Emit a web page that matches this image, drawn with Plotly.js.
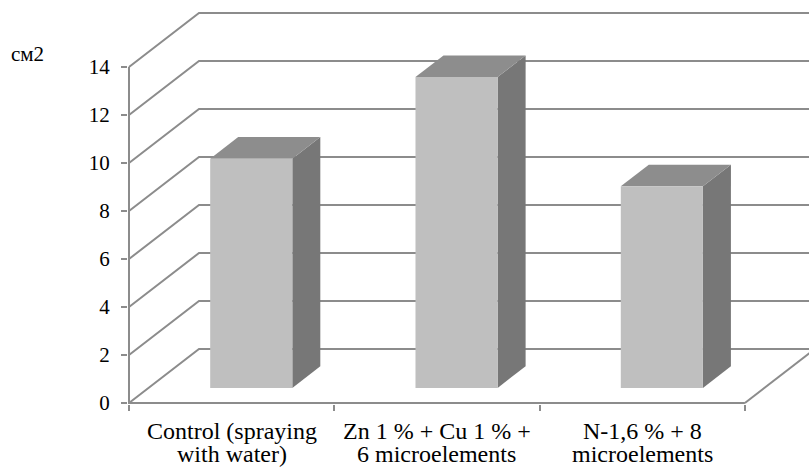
<!DOCTYPE html>
<html>
<head>
<meta charset="utf-8">
<script src="https://cdn.plot.ly/plotly-3.0.1.min.js"></script>
<style>html,body{margin:0;padding:0;background:#fff}#chart{width:809px;height:469px}</style>
</head>
<body>
<div id="chart"></div>
<script>
// ---- data ----
const categories = ["Control (spraying with water)", "Zn 1 % + Cu 1 % + 6 microelements", "N-1,6 % + 8 microelements"];
const categoryLines = [["Control (spraying", "with water)"], ["Zn 1 % + Cu 1 % +", "6 microelements"], ["N-1,6 % + 8", "microelements"]];
const values = [9.55, 12.95, 8.4];
const yTickVals = [0, 2, 4, 6, 8, 10, 12, 14];
const yTickText = ["0", "2", "4", "6", "8", "10", "12", "14"];
const unitLabel = "см2";

// ---- style / layout constants ----
const PX_X = 205.3, PX_Y = 24;        // pixels per axis unit
const L = 128, B = 65, T = 5, W = 809, H = 469;
const DX = 70 / PX_X, DY = 54 / PX_Y;  // depth of the 3-D box in axis units
const F1 = 0.28, F2 = 0.68;            // front/back of the bars as fraction of depth
const BAR_W = 0.4;
const GRID = '#8c8c8c', FRONT = '#bfbfbf', TOP = '#8d8d8d', SIDE = '#777777';
const X0 = -0.5 - 1 / PX_X;
const XMAX = X0 + (W - L) / PX_X;
const Y0 = -1 / PX_Y;
const YMAX = Y0 + (H - T - B) / PX_Y;
const FONT = 'Liberation Serif';

const traces = [];
// back/side wall gridlines
const gx = [], gy = [];
yTickVals.forEach(v => {
  gx.push(-0.5, -0.5 + DX, XMAX + 1, null);
  gy.push(v, v + DY, v + DY, null);
});
traces.push({type: 'scatter', mode: 'lines', x: gx, y: gy, line: {color: GRID, width: 2}, hoverinfo: 'skip', showlegend: false});
// floor right edge
const nCat = categories.length;
traces.push({type: 'scatter', mode: 'lines', x: [nCat - 0.5, nCat - 0.5 + DX], y: [0, DY], line: {color: GRID, width: 2}, hoverinfo: 'skip', showlegend: false});

// bars as three faces
values.forEach((v, i) => {
  const xl = i - BAR_W / 2 + F1 * DX, xr = i + BAR_W / 2 + F1 * DX;
  const yb = F1 * DY, yt = F1 * DY + v;
  const ddx = (F2 - F1) * DX, ddy = (F2 - F1) * DY;
  const poly = (xs, ys, c) => traces.push({type: 'scatter', mode: 'lines', x: xs, y: ys, fill: 'toself', fillcolor: c, line: {width: 0, color: c}, hoverinfo: 'skip', showlegend: false});
  poly([xr, xr + ddx, xr + ddx, xr, xr], [yb, yb + ddy, yt + ddy, yt, yb], SIDE);
  poly([xl, xr, xr + ddx, xl + ddx, xl], [yt, yt, yt + ddy, yt + ddy, yt], TOP);
  poly([xl, xr, xr, xl, xl], [yb, yb, yt, yt, yb], FRONT);
});

// front axis lines
traces.push({type: 'scatter', mode: 'lines', x: [-0.5, -0.5, nCat - 0.5], y: [yTickVals[yTickVals.length - 1], 0, 0], line: {color: GRID, width: 2}, hoverinfo: 'skip', showlegend: false});

const annotations = [];
categoryLines.forEach((lines, i) => {
  lines.forEach((t, j) => {
    annotations.push({x: i, y: 0, xref: 'x', yref: 'y', text: t, showarrow: false, xanchor: 'center', yanchor: 'middle',
      yshift: -28 - 23 * j, font: {family: FONT, size: 24, color: '#000'}});
  });
});
annotations.push({x: (27 - L) / (W - L), y: (H - B - 1 - 53) / (H - T - B), xref: 'paper', yref: 'paper', text: unitLabel, showarrow: false,
  xanchor: 'center', yanchor: 'middle', font: {family: FONT, size: 21, color: '#000'}});

const boundaries = [];
for (let k = 0; k <= nCat; k++) boundaries.push(k - 0.5);

const layout = {
  width: W, height: H,
  margin: {l: L, r: 0, t: T, b: B, pad: 0},
  paper_bgcolor: '#fff', plot_bgcolor: '#fff',
  showlegend: false,
  font: {family: FONT},
  xaxis: {range: [X0, XMAX], showgrid: false, zeroline: false, showline: false, fixedrange: true,
    tickmode: 'array', tickvals: [0, 1, 2], ticktext: ['', '', ''], ticks: '', showticklabels: false,
    minor: {tickmode: 'array', tickvals: boundaries, ticks: 'outside', ticklen: 6, tickwidth: 2, tickcolor: GRID, showgrid: false}},
  yaxis: {range: [Y0, YMAX], showgrid: false, zeroline: false, showline: false, fixedrange: true,
    tickmode: 'array', tickvals: yTickVals, ticktext: yTickText, ticks: 'outside', ticklen: 6, tickwidth: 2, tickcolor: GRID,
    ticklabelstandoff: 7, tickfont: {family: FONT, size: 21, color: '#000'}},
  annotations: annotations
};
Plotly.newPlot('chart', traces, layout, {displayModeBar: false, staticPlot: true});
</script>
</body>
</html>
